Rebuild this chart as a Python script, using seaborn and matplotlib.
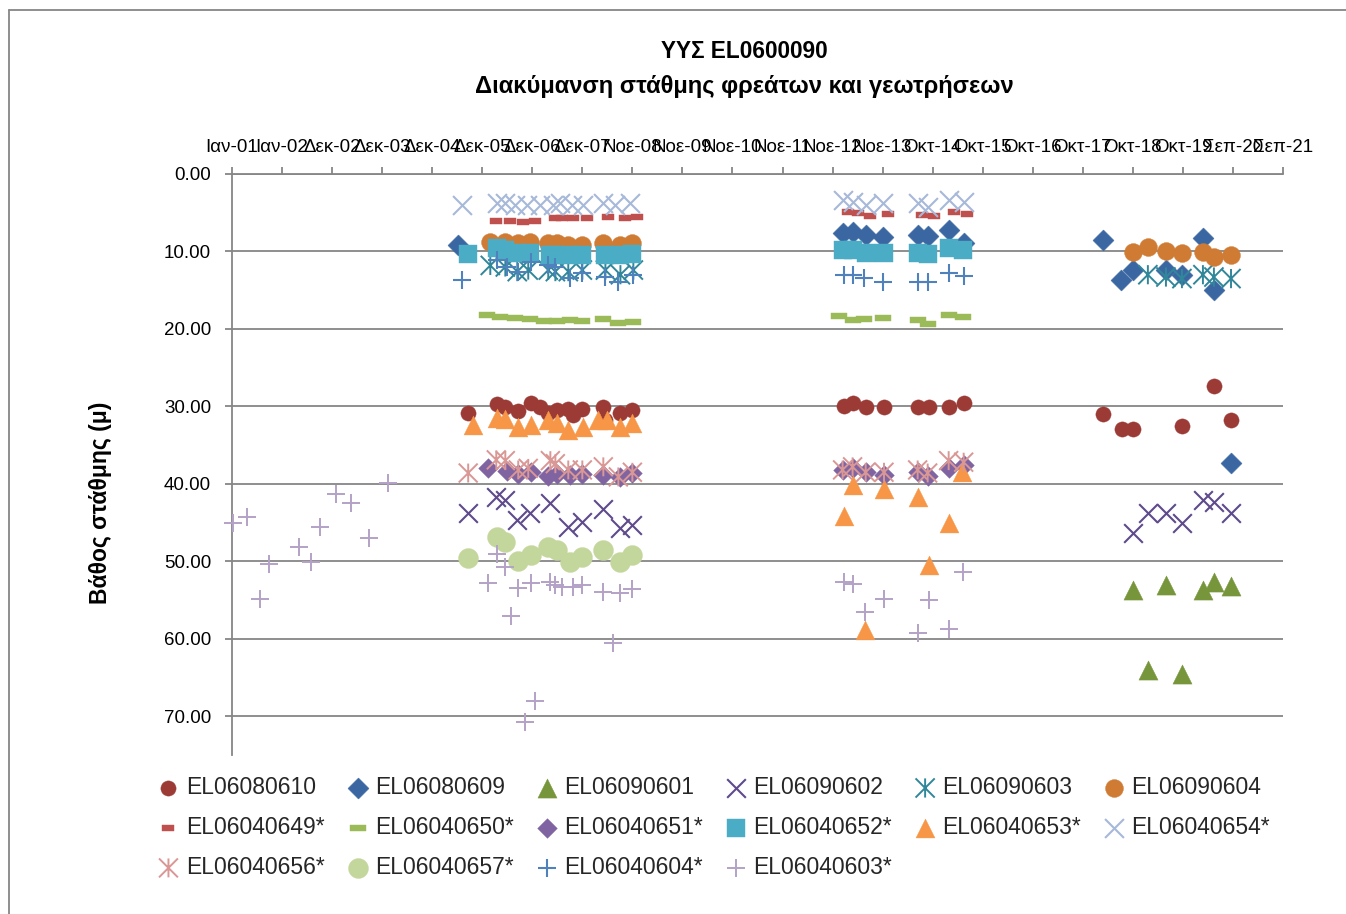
import matplotlib
matplotlib.use("Agg")
import matplotlib.pyplot as plt
import matplotlib.dates as mdates
from matplotlib.path import Path
from matplotlib.lines import Line2D
from matplotlib.ticker import FixedLocator, FuncFormatter
import pandas as pd
import seaborn as sns

# ---- data (dates, depth in m) ----
d_0610 = ["2005-09-04", "2006-04-01", "2006-05-29", "2006-08-30", "2006-12-02", "2007-02-05",
          "2007-04-03", "2007-06-07", "2007-08-25", "2007-09-30", "2007-12-04", "2008-05-03",
          "2008-05-18", "2008-09-03", "2008-11-28",
          "2013-01-25", "2013-03-31", "2013-07-03", "2013-11-12", "2014-07-12", "2014-09-29",
          "2015-02-20", "2015-06-08",
          "2018-03-05", "2018-07-20", "2018-10-07", "2019-09-25", "2020-05-12", "2020-09-12"]
v_0610 = [30.9, 29.7, 30.1, 30.6, 29.5, 30.1, 30.9, 30.5, 30.4, 31.1, 30.4, 30.1, 31.8, 30.9, 30.5,
          30.0, 29.5, 30.1, 30.1, 30.1, 30.1, 30.1, 29.6,
          31.0, 32.9, 32.9, 32.5, 27.4, 31.7]

d_0609 = ["2005-06-24",
          "2013-01-18", "2013-03-31", "2013-07-03", "2013-11-05", "2014-07-12", "2014-09-22",
          "2015-02-20", "2015-06-08",
          "2018-03-05", "2018-07-13", "2018-10-07", "2019-06-02", "2019-09-25", "2020-02-23",
          "2020-05-12", "2020-09-12"]
v_0609 = [9.2,
          7.6, 7.5, 7.9, 8.1, 7.9, 8.0, 7.2, 8.9,
          8.5, 13.7, 12.4, 12.4, 13.0, 8.3, 15.0, 37.3]

d_0601 = ["2018-10-07", "2019-01-23", "2019-06-02", "2019-09-25", "2020-02-23", "2020-05-12", "2020-09-12"]
v_0601 = [53.7, 64.0, 53.1, 64.5, 53.7, 52.7, 53.2]

d_0602 = ["2005-09-04", "2006-03-25", "2006-05-29", "2006-08-23", "2006-11-25", "2007-04-18",
          "2007-08-25", "2007-12-04", "2008-05-03", "2008-09-03", "2008-11-28",
          "2018-10-07", "2019-01-23", "2019-06-02", "2019-09-25", "2020-02-23", "2020-05-12", "2020-09-12"]
v_0602 = [43.8, 41.7, 42.1, 44.7, 43.8, 42.5, 45.6, 44.9, 43.2, 45.7, 45.3,
          46.4, 43.7, 43.8, 45.1, 42.1, 42.4, 43.8]

d_0603 = ["2006-02-10", "2006-05-29", "2006-08-23", "2006-11-10", "2007-04-03", "2007-05-24",
          "2007-08-25", "2007-12-04", "2008-05-18", "2008-09-03", "2008-12-05",
          "2019-01-23", "2019-06-02", "2019-09-25", "2020-02-23", "2020-05-12", "2020-09-12"]
v_0603 = [11.8, 12.0, 12.6, 12.4, 12.4, 12.6, 12.6, 12.4, 12.4, 13.0, 12.4,
          13.0, 13.3, 13.5, 13.0, 13.3, 13.5]

d_0604 = ["2006-02-10", "2006-05-29", "2006-08-30", "2006-11-25", "2007-04-03", "2007-06-07",
          "2007-08-25", "2007-12-04", "2008-05-03", "2008-09-03", "2008-11-28",
          "2018-10-07", "2019-01-23", "2019-06-02", "2019-09-25", "2020-02-23", "2020-05-12", "2020-09-12"]
v_0604 = [8.8, 8.8, 8.9, 8.8, 8.9, 8.9, 9.2, 9.2, 8.9, 9.2, 8.9,
          10.1, 9.4, 9.9, 10.2, 10.1, 10.7, 10.5]

d_649 = ["2006-03-25", "2006-07-04", "2006-10-05", "2006-12-31", "2007-05-24", "2007-07-13",
         "2007-09-30", "2008-01-09", "2008-06-08", "2008-10-09", "2009-01-03",
         "2013-02-23", "2013-05-06", "2013-07-31", "2013-12-11", "2014-08-10", "2014-11-04",
         "2015-03-28", "2015-06-30"]
v_649 = [6.1, 6.1, 6.2, 6.1, 5.7, 5.7, 5.7, 5.7, 5.6, 5.7, 5.6,
         4.9, 5.0, 5.4, 5.2, 5.3, 5.4, 4.9, 5.2]

d_650 = ["2006-01-19", "2006-04-23", "2006-08-09", "2006-11-25", "2007-03-01", "2007-06-07",
         "2007-09-09", "2007-12-04", "2008-05-03", "2008-08-19", "2008-12-05",
         "2012-12-20", "2013-03-31", "2013-06-18", "2013-11-05", "2014-07-12", "2014-09-22",
         "2015-02-20", "2015-06-01"]
v_650 = [18.2, 18.4, 18.6, 18.7, 19.0, 19.0, 18.9, 19.0, 18.7, 19.2, 19.1,
         18.3, 18.9, 18.7, 18.6, 18.9, 19.3, 18.2, 18.5]

d_651 = ["2006-01-26", "2006-06-12", "2006-08-30", "2006-12-02", "2007-04-03", "2007-06-07",
         "2007-09-09", "2007-12-04", "2008-05-03", "2008-09-03", "2008-11-28",
         "2013-01-18", "2013-03-31", "2013-07-03", "2013-11-12", "2014-07-12", "2014-09-22",
         "2015-02-20", "2015-06-08"]
v_651 = [37.9, 38.3, 38.7, 38.5, 39.0, 38.7, 38.8, 38.7, 38.9, 39.1, 38.6,
         38.2, 38.0, 38.5, 38.8, 38.5, 39.0, 38.0, 37.6]

d_652 = ["2005-09-04", "2006-04-01", "2006-05-29", "2006-08-23", "2006-11-25", "2007-04-18",
         "2007-05-24", "2007-09-09", "2007-12-04", "2008-05-18", "2008-09-03", "2008-11-28",
         "2013-01-18", "2013-03-31", "2013-07-03", "2013-11-12", "2014-07-12", "2014-09-22",
         "2015-02-20", "2015-06-01"]
v_652 = [10.3, 9.6, 9.8, 10.2, 10.2, 10.5, 10.5, 10.5, 10.5, 10.5, 10.5, 10.3,
         9.8, 9.8, 10.2, 10.2, 10.2, 10.3, 9.6, 9.8]

d_653 = ["2005-10-10", "2006-04-01", "2006-05-29", "2006-08-30", "2006-12-02", "2007-04-03",
         "2007-06-07", "2007-08-25", "2007-12-11", "2008-03-28", "2008-06-01", "2008-09-03",
         "2008-11-28",
         "2013-01-25", "2013-03-31", "2013-06-25", "2013-11-12", "2014-07-12", "2014-09-29",
         "2015-02-20", "2015-05-25"]
v_653 = [32.4, 31.5, 31.6, 32.7, 32.4, 31.8, 32.1, 33.0, 32.7, 31.7, 31.8, 32.7, 32.2,
         44.1, 40.2, 58.9, 40.6, 41.7, 50.5, 45.0, 38.5]

d_654 = ["2005-07-23", "2006-04-01", "2006-05-29", "2006-08-09", "2006-11-03", "2007-02-05",
         "2007-05-09", "2007-06-29", "2007-09-23", "2007-12-11", "2008-05-03", "2008-07-28",
         "2008-11-14",
         "2013-01-18", "2013-03-31", "2013-07-03", "2013-11-05", "2014-07-12", "2014-09-22",
         "2015-02-20", "2015-06-08"]
v_654 = [4.0, 3.8, 3.8, 4.0, 4.0, 4.0, 4.0, 3.8, 4.0, 4.0, 3.8, 4.0, 3.8,
         3.4, 3.6, 4.0, 3.8, 3.8, 4.3, 3.4, 3.6]

d_656 = ["2005-09-04", "2006-03-25", "2006-05-29", "2006-08-30", "2006-11-10", "2007-04-18",
         "2007-05-24", "2007-08-25", "2007-12-04", "2008-05-03", "2008-08-19", "2008-11-28",
         "2013-01-18", "2013-03-31", "2013-07-03", "2013-11-12", "2014-07-12", "2014-09-22",
         "2015-02-20", "2015-06-08"]
v_656 = [38.6, 36.9, 37.0, 38.2, 38.0, 37.0, 37.4, 38.2, 38.2, 37.8, 39.1, 38.5,
         38.2, 37.8, 38.5, 38.5, 38.2, 38.6, 37.0, 37.2]

d_657 = ["2005-09-04", "2006-04-01", "2006-05-29", "2006-08-30", "2006-12-02", "2007-04-03",
         "2007-06-07", "2007-09-09", "2007-12-04", "2008-05-03", "2008-09-03", "2008-11-28"]
v_657 = [49.6, 46.9, 47.5, 49.9, 49.2, 48.1, 48.5, 50.1, 49.5, 48.5, 50.1, 49.2]

d_604 = ["2005-07-23", "2006-04-01", "2006-06-12", "2006-08-30", "2006-12-02", "2007-04-03",
         "2007-05-24", "2007-09-09", "2007-12-04", "2008-05-18", "2008-08-19", "2008-12-05",
         "2013-01-25", "2013-03-31", "2013-06-18", "2013-11-05", "2014-07-12", "2014-09-22",
         "2015-02-20", "2015-06-08"]
v_604 = [13.7, 11.1, 12.0, 12.6, 11.3, 11.7, 12.0, 13.4, 12.8, 13.3, 13.9, 13.0,
         13.0, 13.0, 13.4, 13.9, 14.0, 14.0, 12.8, 13.2]

d_603 = ["2001-01-16", "2001-04-27", "2001-07-30", "2001-10-02", "2002-05-06", "2002-08-01",
         "2002-10-05", "2003-01-28", "2003-05-16", "2003-09-22", "2004-02-06",
         "2006-01-26", "2006-04-01", "2006-05-29", "2006-07-11", "2006-08-30", "2006-10-20",
         "2006-12-02", "2006-12-31", "2007-04-18", "2007-05-24", "2007-07-13", "2007-09-30",
         "2007-12-04", "2008-05-03", "2008-07-14", "2008-09-03", "2008-11-28",
         "2013-01-25", "2013-03-31", "2013-06-25", "2013-11-12", "2014-07-12", "2014-09-29",
         "2015-02-20", "2015-06-01"]
v_603 = [45.1, 44.3, 54.8, 50.3, 48.1, 50.1, 45.6, 41.3, 42.5, 47.0, 39.9,
         52.8, 49.0, 50.7, 57.0, 53.5, 70.8, 52.8, 68.0, 52.7, 53.1, 53.3, 53.3,
         53.1, 53.9, 60.6, 54.1, 53.6,
         52.7, 52.9, 56.6, 54.8, 59.3, 55.0, 58.7, 51.4]

names = ["EL06080610", "EL06080609", "EL06090601", "EL06090602", "EL06090603", "EL06090604",
         "EL06040649*", "EL06040650*", "EL06040651*", "EL06040652*", "EL06040653*",
         "EL06040654*", "EL06040656*", "EL06040657*", "EL06040604*", "EL06040603*"]
dates = [d_0610, d_0609, d_0601, d_0602, d_0603, d_0604, d_649, d_650, d_651, d_652,
         d_653, d_654, d_656, d_657, d_604, d_603]
values = [v_0610, v_0609, v_0601, v_0602, v_0603, v_0604, v_649, v_650, v_651, v_652,
          v_653, v_654, v_656, v_657, v_604, v_603]

greek_months = ["Ιαν", "Φεβ", "Μαρ", "Απρ", "Μαϊ", "Ιουν", "Ιουλ", "Αυγ", "Σεπ", "Οκτ", "Νοε", "Δεκ"]

# ---- marker shapes ----
star = Path([(-1, -1), (1, 1), (-1, 1), (1, -1), (0, -1), (0, 1)],
            [Path.MOVETO, Path.LINETO, Path.MOVETO, Path.LINETO, Path.MOVETO, Path.LINETO])
dash = Path([(-1, -0.42), (1, -0.42), (1, 0.42), (-1, 0.42), (-1, -0.42)],
            [Path.MOVETO, Path.LINETO, Path.LINETO, Path.LINETO, Path.CLOSEPOLY])

# marker, colour, size (pt^2), kind, line width
styles = [
    ("o", "#9C3B36", 120, "fill", 0),
    ("D", "#3A67A1", 115, "fill", 0),
    ("^", "#77963C", 190, "fill", 0),
    ("x", "#5F4A8B", 180, "line", 1.5),
    (star, "#31879A", 190, "path", 1.4),
    ("o", "#CF7B34", 165, "fill", 0),
    (dash, "#C0504D", 76, "fill", 0),
    (dash, "#9BBB59", 125, "fill", 0),
    ("D", "#8064A2", 100, "fill", 0),
    ("s", "#4BACC6", 185, "fill", 0),
    ("^", "#F79646", 185, "fill", 0),
    ("x", "#A7B9D9", 185, "line", 1.5),
    (star, "#D99795", 185, "path", 1.4),
    ("o", "#C3D69B", 205, "fill", 0),
    ("+", "#4F81BD", 160, "line", 1.5),
    ("+", "#B3A2C7", 165, "line", 1.4),
]

sns.set_theme(style="white")
plt.rcParams["font.family"] = ["Liberation Sans", "DejaVu Sans"]

W, H = 1346, 914
fig = plt.figure(figsize=(W / 100, H / 100), dpi=100)
ax = fig.add_axes([232 / W, 1 - 755 / H, (1283 - 232) / W, (755 - 174) / H])

grey = "#868686"

for name, d, v, (mk, col, size, kind, lw) in zip(names, dates, values, styles):
    df = pd.DataFrame({"date": pd.to_datetime(d), "depth": v})
    if kind == "fill":
        sns.scatterplot(data=df, x="date", y="depth", ax=ax, marker=mk, color=col, s=size,
                        edgecolor=col, linewidth=0.3, label=name, zorder=3, clip_on=False)
    elif kind == "line":
        sns.scatterplot(data=df, x="date", y="depth", ax=ax, marker=mk, color=col, s=size,
                        linewidth=lw, label=name, zorder=3, clip_on=False)
    else:
        sns.scatterplot(data=df, x="date", y="depth", ax=ax, marker=mk, s=size,
                        facecolors="none", edgecolors=col, linewidths=lw, label=name,
                        zorder=3, clip_on=False)

# ---- axes ----
start = pd.Timestamp("2001-01-09")
ticks = [start + pd.Timedelta(days=360 * k) for k in range(22)]
ax.set_xlim(mdates.date2num(ticks[0]), mdates.date2num(ticks[-1]))
ax.xaxis.set_major_locator(FixedLocator(mdates.date2num(ticks)))


def fmt_date(x, pos):
    dt = mdates.num2date(x)
    return f"{greek_months[dt.month - 1]}-{dt.year % 100:02d}"


ax.xaxis.set_major_formatter(FuncFormatter(fmt_date))
ax.set_ylim(75, 0)
ax.set_yticks(range(0, 80, 10))
ax.yaxis.set_major_formatter(FuncFormatter(lambda v, p: f"{v:.2f}"))

ax.set_xlabel("")
ax.set_ylabel("")
ax.yaxis.grid(True, color=grey, lw=1.3)
ax.xaxis.grid(False)
ax.set_axisbelow(True)

for side in ["bottom", "right"]:
    ax.spines[side].set_visible(False)
for side in ["top", "left"]:
    ax.spines[side].set_visible(True)
    ax.spines[side].set_color(grey)
    ax.spines[side].set_linewidth(1.3)

ax.tick_params(axis="x", top=True, labeltop=True, bottom=False, labelbottom=False,
               direction="out", length=5, width=1.3, color=grey, labelsize=13.5,
               labelcolor="black", pad=8)
ax.tick_params(axis="y", left=True, labelleft=True, direction="out", length=5, width=1.3,
               color=grey, labelsize=13.5, labelcolor="black", pad=10)

# ---- titles ----
fig.text(744 / W, 1 - 52 / H, "ΥΥΣ EL0600090", ha="center", va="center",
         fontsize=16.3, fontweight="bold", color="black")
fig.text(744 / W, 1 - 86 / H, "Διακύμανση στάθμης φρεάτων και γεωτρήσεων", ha="center",
         va="center", fontsize=17.1, fontweight="bold", color="black")
fig.text(100 / W, 1 - 503 / H, "Βάθος στάθμης (μ)", ha="center", va="center", rotation=90,
         fontsize=16.5, fontweight="bold", color="black")

# ---- legend: 3 rows x 6 columns, filled column-wise ----
handles, labels = ax.get_legend_handles_labels()
order = [0, 6, 12, 1, 7, 13, 2, 8, 14, 3, 9, 15, 4, 10, 5, 11]
ax.legend([handles[i] for i in order], [labels[i] for i in order], ncol=6,
          loc="upper left", bbox_to_anchor=(157 / W, 1 - 776 / H),
          bbox_transform=fig.transFigure, frameon=False, fontsize=16.5,
          handlelength=1.0, handletextpad=0.25, columnspacing=0.95, labelspacing=0.74,
          borderpad=0, borderaxespad=0)

# chart area border
fig.add_artist(Line2D([9 / W, 9 / W], [0, 1 - 10 / H], transform=fig.transFigure, color=grey, lw=1.3))
fig.add_artist(Line2D([9 / W, 1], [1 - 10 / H, 1 - 10 / H], transform=fig.transFigure, color=grey, lw=1.3))

fig.savefig("out.png", dpi=100, facecolor="white")
